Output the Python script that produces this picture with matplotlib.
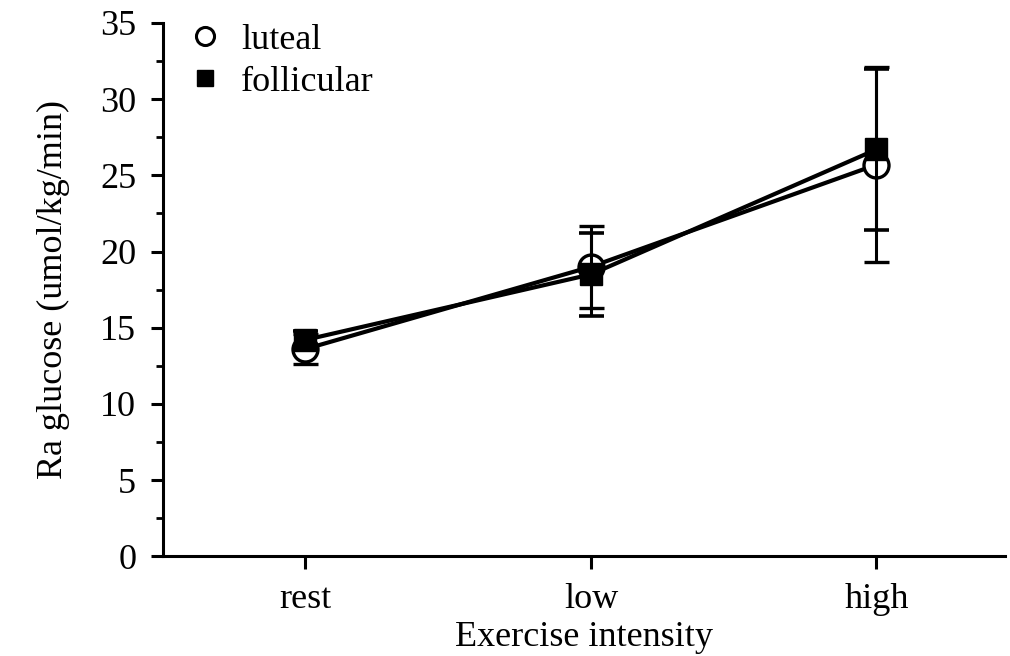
import matplotlib
matplotlib.use("Agg")
import matplotlib.pyplot as plt
from matplotlib.ticker import MultipleLocator
from matplotlib.lines import Line2D

categories = ["rest", "low", "high"]
luteal = [13.6, 19.0, 25.7]
luteal_err = [1.0, 2.7, 6.4]
follicular = [14.2, 18.5, 26.7]
follicular_err = [0.6, 2.7, 5.3]

plt.rcParams['font.family'] = ['Liberation Serif', 'DejaVu Serif']
FS = 26

fig = plt.figure(figsize=(10.1, 6.56), dpi=100)
ax = fig.add_axes([0.161, 0.152, 0.834, 0.813])

x = list(range(len(categories)))
ax.errorbar(x, luteal, yerr=luteal_err, color='black', lw=3.0, marker='o',
            ms=18, mfc='white', mec='black', mew=2.4, capsize=9, capthick=2.6,
            elinewidth=2.2, zorder=3)
ax.errorbar(x, follicular, yerr=follicular_err, color='black', lw=3.0, marker='s',
            ms=16, mfc='black', mec='black', capsize=9, capthick=2.6,
            elinewidth=2.2, zorder=4)

ax.set_xlim(-0.5, 2.45)
ax.set_ylim(0, 35)
ax.set_xticks(x)
ax.set_xticklabels(categories)
ax.yaxis.set_major_locator(MultipleLocator(5))
ax.yaxis.set_minor_locator(MultipleLocator(2.5))
for s in ['top', 'right']:
    ax.spines[s].set_visible(False)
for s in ['left', 'bottom']:
    ax.spines[s].set_linewidth(2.2)
ax.tick_params(axis='both', which='major', labelsize=FS, width=2.2, length=9, direction='out')
ax.tick_params(axis='y', which='minor', width=2, length=5, direction='out')
ax.tick_params(axis='x', pad=10)
ax.tick_params(axis='y', pad=10)

ax.set_xlabel("Exercise intensity", fontsize=FS, labelpad=4)
ax.set_ylabel("Ra glucose (umol/kg/min)", fontsize=FS, labelpad=22)

handles = [
    Line2D([], [], ls='none', marker='o', ms=13, mfc='white', mec='black', mew=2.2),
    Line2D([], [], ls='none', marker='s', ms=12, mfc='black', mec='black'),
]
ax.legend(handles, ["luteal", "follicular"], loc='upper left', bbox_to_anchor=(-0.01, 1.06),
          frameon=False, fontsize=FS, handletextpad=0.5, labelspacing=0.25,
          handlelength=1.0)

fig.savefig("out.png", dpi=100)
